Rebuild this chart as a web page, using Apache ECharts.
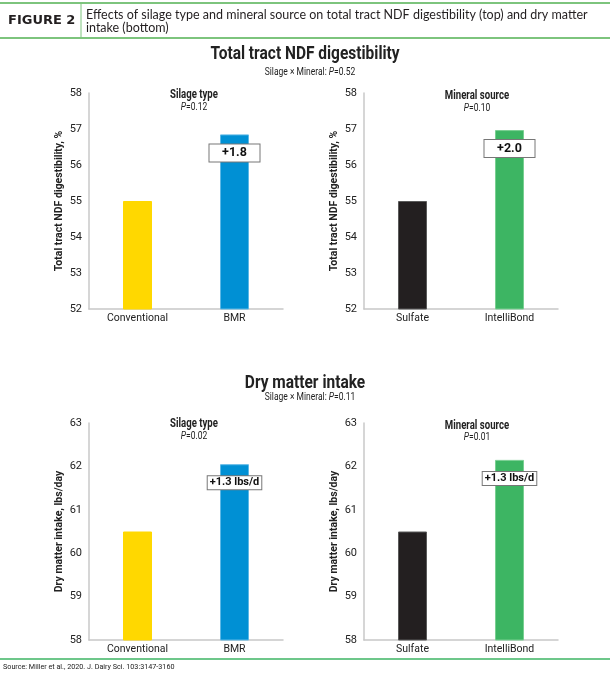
<!DOCTYPE html>
<html>
<head>
<meta charset="utf-8">
<script src="https://cdn.jsdelivr.net/npm/echarts@6/dist/echarts.min.js"></script>
<style>
  html, body { margin: 0; padding: 0; background: #fff; }
  #main { width: 610px; height: 678px; }
</style>
</head>
<body>
<div id="main"></div>
<script>
// data
var silageCats = ['Conventional', 'BMR'];
var mineralCats = ['Sulfate', 'IntelliBond'];
var ndfSilage = [55.0, 56.85];
var ndfMineral = [55.0, 56.97];
var dmiSilage = [60.5, 62.05];
var dmiMineral = [60.5, 62.15];
var ndfDiff = ['+1.8', '+2.0'];
var dmiDiff = ['+1.3 lbs/d', '+1.3 lbs/d'];
var silageColors = ['#FFD800', '#0090D4'];
var mineralColors = ['#231F20', '#3DB563'];
var silageEdges = ['#FFD800', '#5DB8E6'];
var mineralEdges = ['#5a5a5a', '#79CF91'];

var ff = 'Roboto, sans-serif';
var ink = '#222';
var green = '#7DC47D';

function barData(vals, colors, edges, diff, boxW) {
  return vals.map(function (v, i) {
    var d = { value: v, itemStyle: { color: colors[i], borderColor: edges[i], borderWidth: 1 } };
    if (i === 1) {
      d.label = {
        show: true,
        position: 'insideTop',
        distance: boxW ? 10 : 12,
        formatter: diff,
        color: '#111',
        fontWeight: 'bold',
        fontSize: boxW ? 12.5 : 11,
        fontFamily: ff,
        backgroundColor: '#fff',
        borderColor: '#777',
        borderWidth: 1,
        padding: boxW ? [2, 3] : [1, 2]
      };
      if (boxW) { d.label.width = boxW; d.label.align = 'center'; }
    }
    return d;
  });
}

function xAx(idx, cats) {
  return {
    gridIndex: idx, type: 'category', data: cats,
    axisLine: { lineStyle: { color: '#c8c8c8', width: 1.5 } },
    axisTick: { show: false },
    axisLabel: { color: ink, fontSize: 10.5, fontFamily: ff, margin: 4 }
  };
}

function yAx(idx, min, max, name) {
  return {
    gridIndex: idx, type: 'value', min: min, max: max, interval: 1,
    name: name, nameLocation: 'middle', nameGap: 24,
    nameTextStyle: { color: ink, fontWeight: 'bold', fontSize: 10.5, fontFamily: ff },
    axisLine: { show: true, lineStyle: { color: '#c8c8c8', width: 1.5 } },
    axisTick: { show: false },
    splitLine: { show: false },
    axisLabel: { color: ink, fontSize: 11, fontFamily: ff, margin: 7 }
  };
}

// condensed-looking text: horizontally squeezed graphic text
function txt(x, y, s, size, bold, sx) {
  return {
    type: 'text', x: x, y: y, scaleX: sx,
    style: {
      text: s, align: 'center', verticalAlign: 'middle', fill: ink,
      font: (bold ? 'bold ' : '') + size + 'px ' + ff,
      rich: { i: { fontStyle: 'italic', fontSize: size, fontFamily: ff, fill: ink } }
    }
  };
}

var option = {
  backgroundColor: '#fff',
  animation: false,
  grid: [
    { left: 89, top: 93, width: 194, height: 216 },
    { left: 364, top: 93, width: 194, height: 216 },
    { left: 89, top: 423, width: 194, height: 217 },
    { left: 364, top: 423, width: 194, height: 217 }
  ],
  xAxis: [xAx(0, silageCats), xAx(1, mineralCats), xAx(2, silageCats), xAx(3, mineralCats)],
  yAxis: [
    yAx(0, 52, 58, 'Total tract NDF digestibility, %'),
    yAx(1, 52, 58, 'Total tract NDF digestibility, %'),
    yAx(2, 58, 63, 'Dry matter intake, lbs/day'),
    yAx(3, 58, 63, 'Dry matter intake, lbs/day')
  ],
  series: [
    { type: 'bar', xAxisIndex: 0, yAxisIndex: 0, barWidth: 29, data: barData(ndfSilage, silageColors, silageEdges, ndfDiff[0], 44) },
    { type: 'bar', xAxisIndex: 1, yAxisIndex: 1, barWidth: 29, data: barData(ndfMineral, mineralColors, mineralEdges, ndfDiff[1], 44) },
    { type: 'bar', xAxisIndex: 2, yAxisIndex: 2, barWidth: 29, data: barData(dmiSilage, silageColors, silageEdges, dmiDiff[0], 0) },
    { type: 'bar', xAxisIndex: 3, yAxisIndex: 3, barWidth: 29, data: barData(dmiMineral, mineralColors, mineralEdges, dmiDiff[1], 0) }
  ],
  graphic: [
    // header strip
    { type: 'line', shape: { x1: 0, y1: 3, x2: 610, y2: 3 }, style: { stroke: green, lineWidth: 2 } },
    { type: 'line', shape: { x1: 0, y1: 38, x2: 610, y2: 38 }, style: { stroke: green, lineWidth: 2 } },
    { type: 'line', shape: { x1: 81, y1: 3, x2: 81, y2: 38 }, style: { stroke: green, lineWidth: 1 } },
    { type: 'text', left: 8, top: 14,
      style: { text: 'FIGURE 2', fill: '#231F20', font: "bold 13px 'DejaVu Sans', sans-serif" } },
    { type: 'text', left: 86, top: 8,
      style: { text: 'Effects of silage type and mineral source on total tract NDF digestibility (top) and dry matter\nintake (bottom)',
        fill: '#231F20', font: "12.5px Lato, sans-serif", lineHeight: 13 } },

    // titles
    txt(305, 54, 'Total tract NDF digestibility', 18, true, 0.86),
    txt(310, 72, 'Silage × Mineral: {i|P}=0.52', 10, false, 0.85),
    txt(305, 383, 'Dry matter intake', 18, true, 0.86),
    txt(310, 397, 'Silage × Mineral: {i|P}=0.11', 10, false, 0.85),
    txt(194, 95, 'Silage type', 12, true, 0.8),
    txt(194, 107, '{i|P}=0.12', 10, false, 0.85),
    txt(477, 96, 'Mineral source', 12, true, 0.8),
    txt(477, 108, '{i|P}=0.10', 10, false, 0.85),
    txt(194, 424, 'Silage type', 12, true, 0.8),
    txt(194, 436, '{i|P}=0.02', 10, false, 0.85),
    txt(477, 426, 'Mineral source', 12, true, 0.8),
    txt(477, 437, '{i|P}=0.01', 10, false, 0.85),

    // footer
    { type: 'line', shape: { x1: 0, y1: 659, x2: 610, y2: 659 }, style: { stroke: '#3DB563', lineWidth: 1.5 } },
    { type: 'text', left: 3, top: 663, scaleX: 0.9,
      style: { text: 'Source: Miller et al., 2020. J. Dairy Sci. 103:3147-3160', fill: ink, font: '8px ' + ff } }
  ]
};

var chart = echarts.init(document.getElementById('main'));
chart.setOption(option);
</script>
</body>
</html>
